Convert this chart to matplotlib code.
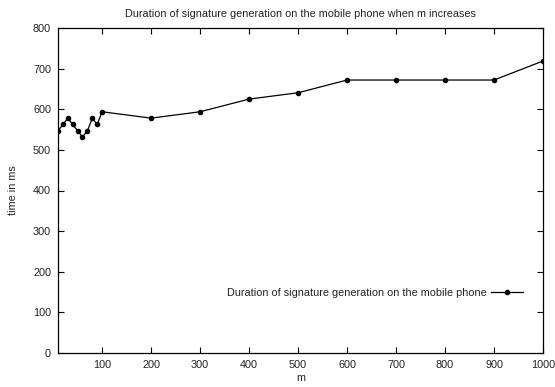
import matplotlib
matplotlib.use("Agg")
import matplotlib.pyplot as plt

plt.rcParams['font.family'] = ['Liberation Sans', 'DejaVu Sans']

m_values = [10, 20, 30, 40, 50, 60, 70, 80, 90, 100, 200, 300, 400, 500, 600, 700, 800, 900, 1000]
time_ms = [546.9, 562.5, 578.1, 562.5, 546.9, 531.3, 546.9, 578.1, 562.5, 593.8,
           578.1, 593.8, 625.0, 640.6, 671.9, 671.9, 671.9, 671.9, 718.8]
x_ticks = [100, 200, 300, 400, 500, 600, 700, 800, 900, 1000]
y_ticks = [0, 100, 200, 300, 400, 500, 600, 700, 800]

FS = 7.8
fig = plt.figure(figsize=(5.55, 3.87), dpi=100)
ax = fig.add_axes([58/555, 1-353/387, (543-58)/555, (353-28)/387])

ax.plot(m_values, time_ms, color='black', lw=0.9, marker='o', ms=3.0,
        label='Duration of signature generation on the mobile phone')
ax.set_xlim(10, 1000)
ax.set_ylim(0, 800)
ax.set_xticks(x_ticks)
ax.set_yticks(y_ticks)
ax.tick_params(direction='in', top=True, right=True, labelsize=FS, length=4, width=0.8, pad=5,
               colors='black', labelcolor='#222222')
for s in ax.spines.values():
    s.set_linewidth(0.9)
ax.set_xlabel('m', fontsize=FS, labelpad=2, color='#222222')
ax.set_ylabel('time in ms', fontsize=FS, labelpad=11, color='#222222')
ax.set_title('Duration of signature generation on the mobile phone when m increases',
             fontsize=FS, pad=8, color='#222222')
leg = ax.legend(loc='center right', bbox_to_anchor=(0.959, 0.185), frameon=False, fontsize=FS,
                markerfirst=False, handlelength=3.0, handletextpad=0.4,
                borderpad=0, borderaxespad=0)
for t in leg.get_texts():
    t.set_color('#222222')
fig.savefig('out.png', dpi=100)
